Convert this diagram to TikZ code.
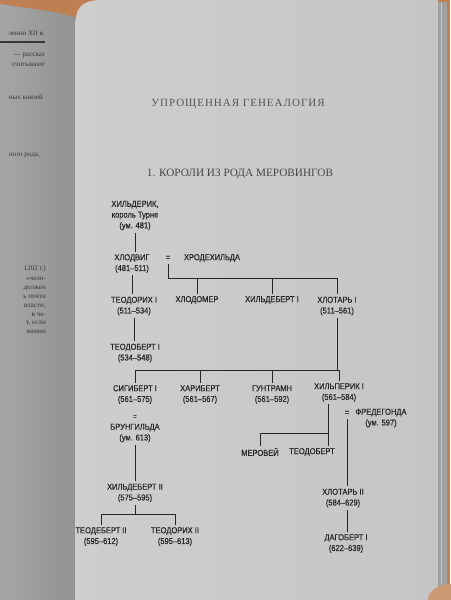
\documentclass[tikz,border=0pt]{standalone}
\usepackage{fontspec}
\setmainfont{Liberation Serif}
\newfontfamily\treefont[FakeStretch=0.88, FakeBold=0.4]{Liberation Sans}
\newfontfamily\headfont[LetterSpace=9]{Liberation Serif}

\definecolor{table}{RGB}{190,128,82}
\definecolor{leftpage}{RGB}{166,166,166}
\definecolor{gutter}{RGB}{146,146,146}
\definecolor{pagelight}{RGB}{206,206,206}
\definecolor{pagedark}{RGB}{197,197,197}
\definecolor{edges}{RGB}{160,160,160}
\definecolor{ink}{RGB}{38,38,38}
\definecolor{headink}{RGB}{85,85,85}
\definecolor{oldink}{RGB}{55,55,55}

\tikzset{
  person/.style={align=center, text=ink, inner sep=2pt,
    font=\treefont\fontsize{7.3}{9.2}\selectfont},
  marr/.style={text=ink, inner sep=3pt, font=\treefont\fontsize{7.3}{9}\selectfont},
  kin/.style={draw=ink, line width=0.7pt},
  oldline/.style={anchor=base east, text=oldink, inner sep=0pt,
    font=\fontsize{6}{6}\selectfont},
}

\begin{document}
\begin{tikzpicture}[x=0.03cm, y=-0.03cm]
    \useasboundingbox (0,0) rectangle (450,600);

    % photo: table, left page, right page, page edges
    \fill[table] (0,0) rectangle (450,600);
    \shade[left color=leftpage, right color=gutter]
        (0,4) -- (55,12) -- (78,18) -- (78,600) -- (0,600) -- cycle;
    \shade[left color=pagelight, right color=pagedark]
        (75,30) .. controls (75,8) and (80,1) .. (100,0) -- (438,0) -- (438,600) -- (75,600) -- cycle;
    \fill[edges] (438,2) rectangle (447,600);
    \draw[pagedark, line width=0.8pt] (441,2) -- (441,600);
    \fill[table!80!white] (450,600) ellipse [x radius=22, y radius=16];

    % left page, end of lines
    \begin{scope}
        \clip (0,4) -- (55,12) -- (74,18) -- (74,600) -- (0,600) -- cycle;
        \node[oldline] (l1) at (45,36) {лении XII в.};
        \draw[oldink, line width=0.9pt] (0,42) -- (45,42);
        \node[oldline] (l2) at (45,57) {— рассказ};
        \node[oldline] (l3) at (45,67) {считывают};
        \node[oldline] (l4) at (43,100) {ных князей};
        \node[oldline] (l5) at (40,157) {ного рода,};
        \node[oldline] (l6) at (46,270) {1202 г.)};
        \node[oldline] (l7) at (46,280) {«чело-};
        \node[oldline] (l8) at (46,289) {должен};
        \node[oldline] (l9) at (46,298) {ь почти};
        \node[oldline] (l10) at (46,307) {власти,};
        \node[oldline] (l11) at (46,316) {в че-};
        \node[oldline] (l12) at (46,324) {т, если};
        \node[oldline] (l13) at (46,333) {жении};
    \end{scope}

    % headings
    \node[text=headink, font=\headfont\fontsize{9.4}{10}\selectfont] (head) at (238,104)
        {УПРОЩЕННАЯ ГЕНЕАЛОГИЯ};
    \node[text=ink!85!white, font=\fontsize{9.6}{10}\selectfont] (sub) at (240,174)
        {1. КОРОЛИ ИЗ РОДА МЕРОВИНГОВ};

    % generations
    \node[person] (hild) at (135,215.5) {ХИЛЬДЕРИК,\\король Турне\\(ум. 481)};
    \node[person] (chlod) at (132,263.5) {ХЛОДВИГ\\(481–511)};
    \node[marr] (eq1) at (168,258) {=};
    \node[person] (chrod) at (212,258) {ХРОДЕХИЛЬДА};

    \node[person] (teod1) at (134,306) {ТЕОДОРИХ I\\(511–534)};
    \node[person] (chlodomer) at (197,300) {ХЛОДОМЕР};
    \node[person] (hildeb1) at (272,300) {ХИЛЬДЕБЕРТ I};
    \node[person] (chlot1) at (337,306) {ХЛОТАРЬ I\\(511–561)};
    \node[person] (teodob1) at (135,353) {ТЕОДОБЕРТ I\\(534–548)};

    \node[person] (sig) at (135,394.5) {СИГИБЕРТ I\\(561–575)};
    \node[person] (char) at (200,394.5) {ХАРИБЕРТ\\(561–567)};
    \node[person] (gunt) at (272,394.5) {ГУНТРАМН\\(561–592)};
    \node[person] (hilp) at (339,392.5) {ХИЛЬПЕРИК I\\(561–584)};

    \node[marr, inner sep=1pt, scale=0.8] (eq2) at (135,417) {=};
    \node[person] (brun) at (135,433) {БРУНГИЛЬДА\\(ум. 613)};
    \node[marr] (eq3) at (347,413) {=};
    \node[person] (fred) at (381,418) {ФРЕДЕГОНДА\\(ум. 597)};

    \node[person] (merov) at (260,452) {МЕРОВЕЙ};
    \node[person] (teodob) at (312,452) {ТЕОДОБЕРТ};

    \node[person] (hild2) at (135,493) {ХИЛЬДЕБЕРТ II\\(575–595)};
    \node[person] (chlot2) at (343,498) {ХЛОТАРЬ II\\(584–629)};
    \node[person] (teodeb2) at (101,536.5) {ТЕОДЕБЕРТ II\\(595–612)};
    \node[person] (teodor2) at (175,536.5) {ТЕОДОРИХ II\\(595–613)};
    \node[person] (dagob) at (346,543.5) {ДАГОБЕРТ I\\(622–639)};

    % lines of descent
    \coordinate (bar1) at (0,278);
    \coordinate (bar2) at (0,370);
    \coordinate (bar3) at (0,514);
    \coordinate (bar4) at (0,433);
    \coordinate (hilpl) at (328,0);

    \draw[kin] (hild.south) -- (hild.south |- chlod.north);
    \draw[kin] (chlod.south) -- (chlod.south |- teod1.north);
    \draw[kin] (eq1.south) -- (eq1.south |- bar1) -- (chlot1.north |- bar1) -- (chlot1.north);
    \draw[kin] (chlodomer.north) -- (chlodomer.north |- bar1);
    \draw[kin] (hildeb1.north) -- (hildeb1.north |- bar1);
    \draw[kin] (teod1.south) -- (teod1.south |- teodob1.north);

    \draw[kin] (chlot1.south) -- (chlot1.south |- bar2);
    \draw[kin] (sig.north) -- (sig.north |- bar2) -- (hilp.north |- bar2) -- (hilp.north);
    \draw[kin] (char.north) -- (char.north |- bar2);
    \draw[kin] (gunt.north) -- (gunt.north |- bar2);

    \draw[kin] (brun.south) -- (brun.south |- hild2.north);
    \draw[kin] (hild2.south) -- (hild2.south |- bar3);
    \draw[kin] (teodeb2.north) -- (teodeb2.north |- bar3) -- (teodor2.north |- bar3) -- (teodor2.north);

    \draw[kin] (hilp.south -| hilpl) -- (teodob.north -| hilpl);
    \draw[kin] (merov.north) -- (merov.north |- bar4) -- (hilpl |- bar4);
    \draw[kin] (eq3.south) -- (eq3.south |- chlot2.north);
    \draw[kin] (chlot2.south -| eq3.south) -- (dagob.north -| eq3.south);
\end{tikzpicture}
\end{document}
